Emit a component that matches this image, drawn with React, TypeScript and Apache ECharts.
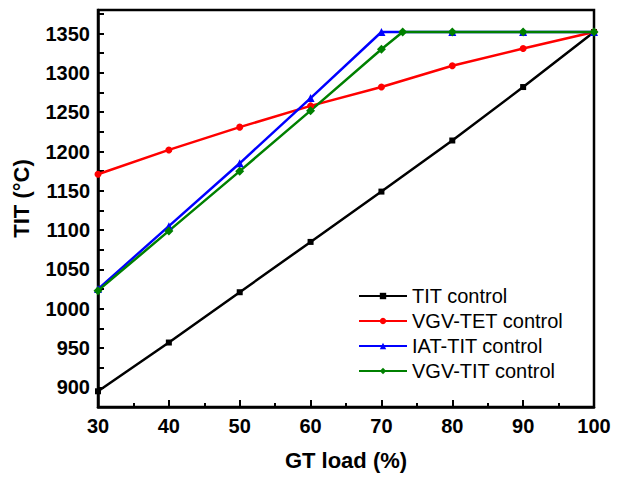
import React, { useEffect, useRef } from "react";
import * as echarts from "echarts";

const loads = [30, 40, 50, 60, 70, 80, 90, 100];
const titControl = [895, 957, 1021, 1085, 1149, 1214, 1282, 1352];
const vgvTetControl = [1171, 1202, 1231, 1258, 1282, 1309, 1331, 1352];
const iatTitLoads = [30, 40, 50, 60, 70, 80, 90, 100];
const iatTitControl = [1025, 1105, 1185, 1268, 1352, 1352, 1352, 1352];
const vgvTitLoads = [30, 40, 50, 60, 70, 73, 80, 90, 100];
const vgvTitControl = [1023, 1099, 1175, 1252, 1330, 1352, 1352, 1352, 1352];

const zip = (xs: number[], ys: number[]) => xs.map((x, i) => [x, ys[i]]);

export default function App() {
  const ref = useRef<HTMLDivElement>(null);
  useEffect(() => {
    document.body.style.margin = "0";
    if (!ref.current) return;
    const chart = echarts.init(ref.current, null, { renderer: "svg" });
    const font = "Arial, 'Liberation Sans', sans-serif";
    const mk = (name: string, color: string, symbol: string, size: number, data: number[][]) => ({
      name,
      type: "line",
      data,
      symbol,
      symbolSize: size,
      showSymbol: true,
      lineStyle: { color, width: 2.5 },
      itemStyle: { color },
      z: 3,
    });
    chart.setOption({
      animation: false,
      backgroundColor: "#fff",
      grid: {
        left: 98,
        right: 27,
        top: 10,
        bottom: 74,
        show: true,
        borderColor: "#000",
        borderWidth: 2.5,
      },
      legend: {
        orient: "vertical",
        left: 358,
        top: 286,
        padding: 0,
        itemWidth: 48,
        itemHeight: 8,
        itemGap: 5,
        textStyle: { fontFamily: font, fontSize: 20, color: "#000" },
        data: ["TIT control", "VGV-TET control", "IAT-TIT control", "VGV-TIT control"],
      },
      xAxis: {
        type: "value",
        min: 30,
        max: 100,
        interval: 10,
        name: "GT load (%)",
        nameLocation: "middle",
        nameGap: 42,
        nameTextStyle: { fontFamily: font, fontSize: 22, fontWeight: "bold", color: "#000" },
        axisLine: { show: true, lineStyle: { color: "#000", width: 2.5 } },
        axisTick: { show: true, inside: true, length: 7, lineStyle: { color: "#000", width: 2 } },
        minorTick: { show: true, splitNumber: 2, length: 4, lineStyle: { color: "#000", width: 2 } },
        axisLabel: { fontFamily: font, fontSize: 20, fontWeight: "bold", color: "#000", margin: 9 },
        splitLine: { show: false },
      },
      yAxis: {
        type: "value",
        min: 875,
        max: 1380,
        interval: 25,
        name: "TIT (°C)",
        nameLocation: "middle",
        nameGap: 66,
        nameTextStyle: {
          fontFamily: font,
          fontSize: 22,
          fontWeight: "bold",
          color: "#000",
          padding: [0, 0, 0, 20],
        },
        axisLine: { show: true, lineStyle: { color: "#000", width: 2.5 } },
        axisTick: { show: true, inside: true, length: 6, lineStyle: { color: "#000", width: 2 } },
        axisLabel: {
          fontFamily: font,
          fontSize: 20,
          fontWeight: "bold",
          color: "#000",
          margin: 8,
          showMaxLabel: false,
          formatter: (v: number) => (v % 50 === 0 ? String(v) : ""),
        },
        splitLine: { show: false },
      },
      series: [
        mk("TIT control", "#000000", "rect", 6, zip(loads, titControl)),
        mk("VGV-TET control", "#ff0000", "circle", 7, zip(loads, vgvTetControl)),
        mk("IAT-TIT control", "#0000ff", "triangle", 8, zip(iatTitLoads, iatTitControl)),
        mk("VGV-TIT control", "#008000", "diamond", 9, zip(vgvTitLoads, vgvTitControl)),
      ],
    });
    return () => chart.dispose();
  }, []);
  return <div ref={ref} style={{ width: 621, height: 481 }} />;
}
